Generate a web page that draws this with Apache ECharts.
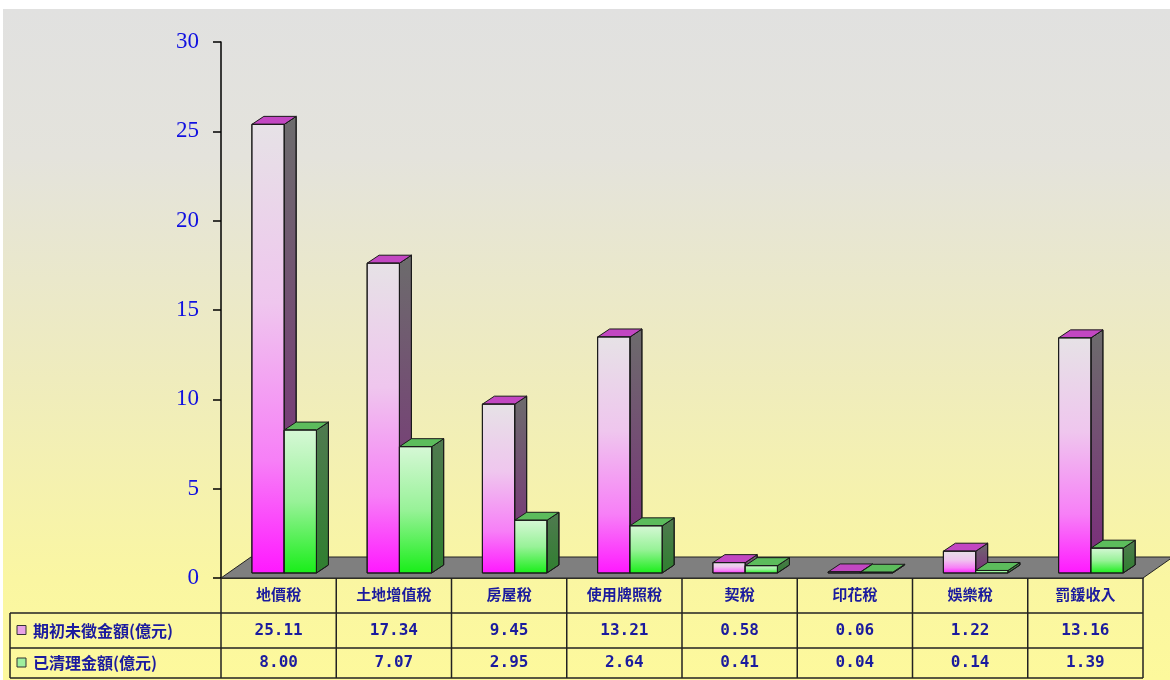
<!DOCTYPE html>
<html><head><meta charset="utf-8">
<script src="https://cdn.jsdelivr.net/npm/echarts@6/dist/echarts.min.js"></script>
<style>html,body{margin:0;padding:0;background:#fff}#c{width:1170px;height:680px}</style>
</head><body><div id="c"></div>
<script>
// ---- data ----
const categories = ['地價稅', '土地增值稅', '房屋稅', '使用牌照稅', '契稅', '印花稅', '娛樂稅', '罰鍰收入'];
const seriesNames = ['期初未徵金額(億元)', '已清理金額(億元)'];
const initialArrears = [25.11, 17.34, 9.45, 13.21, 0.58, 0.06, 1.22, 13.16];
const clearedAmounts = [8.00, 7.07, 2.95, 2.64, 0.41, 0.04, 0.14, 1.39];
const yMin = 0, yMax = 30, yStep = 5;

// ---- styling ----
const DEPTH_X = 12, DEPTH_Y = 8, LIFT_Y = 5, SHIFT_X_RATIO = 0.048, BAR_RATIO = 0.28;
const FLOOR_DX = 30, FLOOR_DY = 21;
const TEXT_BLUE = '#1b1b9e';
function lg(stops) {
  return new echarts.graphic.LinearGradient(0, 0, 0, 1, stops.map(s => ({offset: s[0], color: s[1]})));
}
const palettes = [
  {
    front: () => lg([[0, '#e6e2e6'], [0.4, '#efc6ee'], [0.75, '#f77ff7'], [1, '#ff18ff']]),
    side: () => lg([[0, '#6c6c6c'], [1, '#7c2a7c']]),
    top: '#c247c2'
  },
  {
    front: () => lg([[0, '#d6f8d6'], [0.5, '#98f298'], [1, '#18ee18']]),
    side: () => lg([[0, '#507a50'], [1, '#2f7f2f']]),
    top: '#5cbc5c'
  }
];

function bar3d(sideIdx) {
  const pal = palettes[sideIdx];
  return function (params, api) {
    const i = api.value(0), v = api.value(1);
    const catW = api.size([1, 0])[0];
    const bw = catW * BAR_RATIO;
    const p0 = api.coord([i, 0]), p1 = api.coord([i, v]);
    const cx = p0[0] + catW * SHIFT_X_RATIO;
    const x0 = sideIdx === 0 ? cx - bw : cx, x1 = x0 + bw;
    const yb = p0[1] - LIFT_Y, yt = p1[1] - LIFT_Y;
    const ln = {stroke: '#1a1a1a', lineWidth: 1};
    return {
      type: 'group', children: [
        {type: 'polygon', shape: {points: [[x1, yb], [x1 + DEPTH_X, yb - DEPTH_Y], [x1 + DEPTH_X, yt - DEPTH_Y], [x1, yt]]},
          style: Object.assign({fill: pal.side()}, ln)},
        {type: 'polygon', shape: {points: [[x0, yt], [x0 + DEPTH_X, yt - DEPTH_Y], [x1 + DEPTH_X, yt - DEPTH_Y], [x1, yt]]},
          style: Object.assign({fill: pal.top}, ln)},
        {type: 'rect', shape: {x: x0, y: yt, width: bw, height: Math.max(yb - yt, 0.5)},
          style: Object.assign({fill: pal.front()}, ln)}
      ]
    };
  };
}

const chart = echarts.init(document.getElementById('c'), null, {renderer: 'canvas'});
const option = {
  animation: false,
  backgroundColor: '#ffffff',
  grid: {left: 221, top: 42, right: 27, bottom: 102, containLabel: false, outerBoundsMode: 'none'},
  xAxis: {
    type: 'category', data: categories,
    axisLine: {show: true, lineStyle: {color: '#000', width: 1.5}},
    axisTick: {show: false},
    axisLabel: {interval: 0, margin: 9, color: TEXT_BLUE, fontSize: 15, fontWeight: 'bold', fontFamily: '"Noto Sans CJK TC"'},
    splitLine: {show: false}
  },
  yAxis: {
    type: 'value', min: yMin, max: yMax, interval: yStep,
    axisLine: {show: true, lineStyle: {color: '#000', width: 1.5}},
    axisTick: {show: true, length: 8, lineStyle: {color: '#000', width: 1.5}},
    axisLabel: {margin: 22, color: '#1010e0', fontSize: 23, fontFamily: '"Liberation Serif"'},
    splitLine: {show: false}
  },
  series: [
    {type: 'custom', name: seriesNames[0], renderItem: bar3d(0), data: initialArrears.map((v, i) => [i, v]), encode: {x: 0, y: 1}, z: 3, clip: false},
    {type: 'custom', name: seriesNames[1], renderItem: bar3d(1), data: clearedAmounts.map((v, i) => [i, v]), encode: {x: 0, y: 1}, z: 4, clip: false}
  ]
};
chart.setOption(option);

// ---- background, floor and data table built from axis positions ----
const p00 = chart.convertToPixel({gridIndex: 0}, [0, 0]);
const p10 = chart.convertToPixel({gridIndex: 0}, [1, 0]);
const catW = p10[0] - p00[0];
const xL = p00[0] - catW / 2;
const xR = xL + catW * categories.length;
const y0 = p00[1];
const rowTop = y0 + 35, rowMid = rowTop + 35, rowBot = rowMid + 30;
const tableLeft = 10;
const lineStyle = {stroke: '#222', lineWidth: 1.5};
const g = [];
g.push({type: 'rect', z: -10, shape: {x: 3, y: 9, width: 1167, height: 671}, style: {fill: lg([[0, '#e1e1e0'], [0.22, '#e4e3dc'], [0.55, '#efecbd'], [0.85, '#faf6a2'], [1, '#fdf99c']])}, silent: true});
g.push({type: 'polygon', z: 1, shape: {points: [[xL, y0], [xR, y0], [xR + FLOOR_DX, y0 - FLOOR_DY], [xL + FLOOR_DX, y0 - FLOOR_DY]]}, style: {fill: '#7f7f7f', stroke: '#222', lineWidth: 1}});
for (let k = 0; k <= categories.length; k++) {
  const x = xL + k * catW;
  g.push({type: 'line', z: 5, shape: {x1: x, y1: y0, x2: x, y2: rowBot}, style: lineStyle});
}
[rowTop, rowMid, rowBot].forEach(y => g.push({type: 'line', z: 5, shape: {x1: tableLeft, y1: y, x2: xR, y2: y}, style: lineStyle}));
g.push({type: 'line', z: 5, shape: {x1: tableLeft, y1: rowTop, x2: tableLeft, y2: rowBot}, style: lineStyle});
const rows = [initialArrears, clearedAmounts];
const rowCenters = [(rowTop + rowMid) / 2, (rowMid + rowBot) / 2];
const swatch = ['#e8a2e6', '#9ef09e'];
rows.forEach((arr, r) => {
  const yc = rowCenters[r];
  g.push({type: 'rect', z: 6, shape: {x: 17, y: yc - 5, width: 9, height: 9}, style: {fill: swatch[r], stroke: '#333', lineWidth: 1}});
  g.push({type: 'text', z: 6, style: {x: 33, y: yc, text: seriesNames[r], fill: TEXT_BLUE, font: 'bold 16px "Noto Sans CJK TC"', verticalAlign: 'middle', align: 'left'}});
  arr.forEach((v, i) => {
    g.push({type: 'text', z: 6, style: {x: xL + (i + 0.5) * catW, y: yc, text: v.toFixed(2), fill: TEXT_BLUE, font: 'bold 16px "DejaVu Sans Mono"', verticalAlign: 'middle', align: 'center'}});
  });
});
chart.setOption({graphic: {elements: g}});
</script>
</body></html>
